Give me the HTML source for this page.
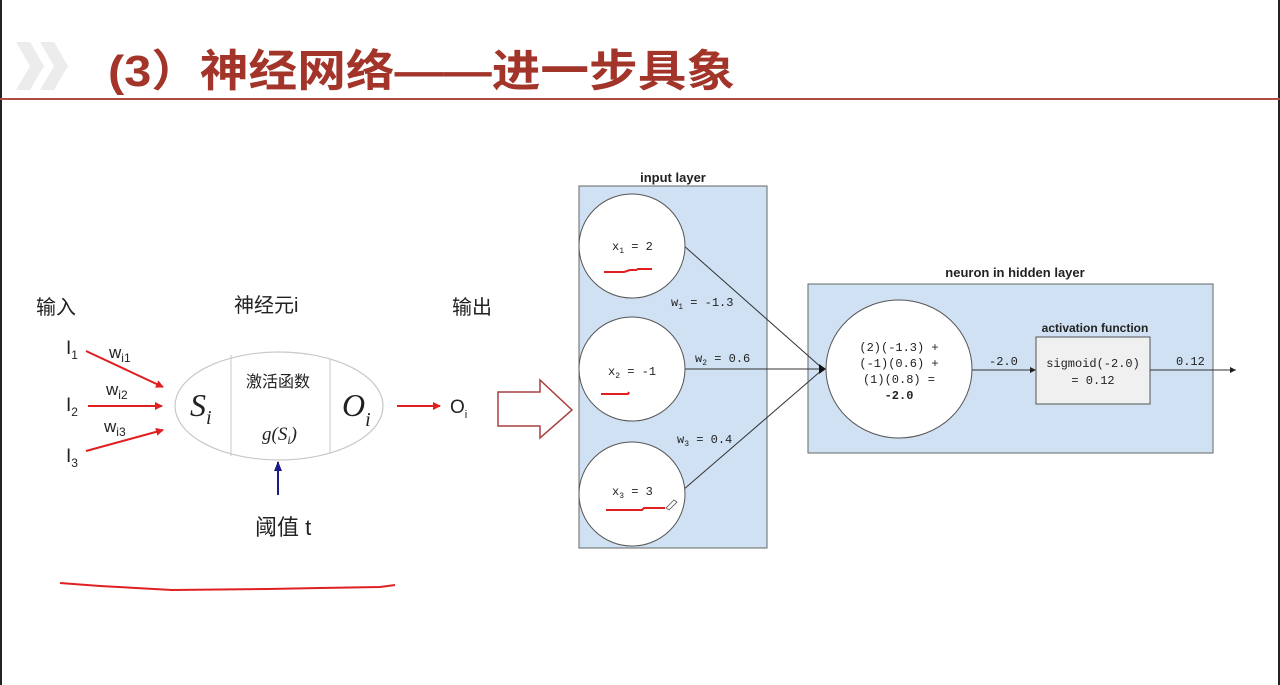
<!DOCTYPE html>
<html><head><meta charset="utf-8"><style>
html,body{margin:0;padding:0;background:#fff;}
svg{display:block;}
.m{font-family:"Liberation Mono","DejaVu Sans Mono",monospace;font-size:12px;fill:#222;}
.s{font-family:"Liberation Sans","Noto Sans CJK SC",sans-serif;}
</style></head><body>
<svg width="1280" height="685" viewBox="0 0 1280 685" xmlns="http://www.w3.org/2000/svg">
<defs>
<marker id="ra" markerWidth="8" markerHeight="8" refX="7" refY="4" orient="auto" markerUnits="userSpaceOnUse"><path d="M0,0L8,4L0,8z" fill="#e02020"/></marker>
<marker id="ba" markerWidth="10" markerHeight="10" refX="9" refY="4" orient="auto" markerUnits="userSpaceOnUse"><path d="M0,0L10,4L0,8z" fill="#1a1a8a"/></marker>
<marker id="ka" markerWidth="6" markerHeight="6" refX="6" refY="3" orient="auto" markerUnits="userSpaceOnUse"><path d="M0,0L6,3L0,6z" fill="#222"/></marker>
</defs>
<rect x="0" y="0" width="2" height="685" fill="#222"/>
<rect x="1278" y="0" width="2" height="685" fill="#222"/>
<!-- header -->
<path d="M16,42 L30,42 L44,66 L30,90 L16,90 L30,66z" fill="#ececec"/>
<path d="M40,42 L54,42 L68,66 L54,90 L40,90 L54,66z" fill="#ececec"/>
<text x="108" y="86" class="s" font-size="44" font-weight="bold" fill="#a2342a" textLength="627" lengthAdjust="spacingAndGlyphs">(3）神经网络——进一步具象</text>
<rect x="0" y="98" width="1280" height="2" fill="#b04a44"/>
<!-- left diagram -->
<text x="36" y="314" class="s" font-size="20" fill="#222">输入</text>
<text x="234" y="312" class="s" font-size="20" fill="#222">神经元i</text>
<text x="452" y="314" class="s" font-size="20" fill="#222">输出</text>
<text x="66" y="354" class="s" font-size="19" fill="#222">I<tspan font-size="12" dy="5">1</tspan></text>
<text x="66" y="411" class="s" font-size="19" fill="#222">I<tspan font-size="12" dy="5">2</tspan></text>
<text x="66" y="462" class="s" font-size="19" fill="#222">I<tspan font-size="12" dy="5">3</tspan></text>
<text x="109" y="358" class="s" font-size="17" fill="#222">w<tspan font-size="12" dy="4">i1</tspan></text>
<text x="106" y="395" class="s" font-size="17" fill="#222">w<tspan font-size="12" dy="4">i2</tspan></text>
<text x="104" y="432" class="s" font-size="17" fill="#222">w<tspan font-size="12" dy="4">i3</tspan></text>
<line x1="86" y1="351" x2="163" y2="387" stroke="#e02020" stroke-width="2" marker-end="url(#ra)"/>
<line x1="88" y1="406" x2="162" y2="406" stroke="#e02020" stroke-width="2" marker-end="url(#ra)"/>
<line x1="86" y1="451" x2="163" y2="430" stroke="#e02020" stroke-width="2" marker-end="url(#ra)"/>
<ellipse cx="279" cy="406" rx="104" ry="54" fill="#fff" stroke="#c8c8c8" stroke-width="1.2"/>
<line x1="231" y1="355" x2="231" y2="456" stroke="#c8c8c8"/>
<line x1="330" y1="359" x2="330" y2="453" stroke="#c8c8c8"/>
<text x="190" y="416" font-family="Liberation Serif,serif" font-style="italic" font-size="32" fill="#222">S<tspan font-size="20" dy="8">i</tspan></text>
<text x="342" y="416" font-family="Liberation Serif,serif" font-style="italic" font-size="32" fill="#222">O<tspan font-size="20" dy="10">i</tspan></text>
<text x="246" y="387" class="s" font-size="16" fill="#222">激活函数</text>
<text x="262" y="440" font-family="Liberation Serif,serif" font-style="italic" font-size="19" fill="#222">g(S<tspan font-size="12" dy="4">i</tspan><tspan dy="-4">)</tspan></text>
<line x1="278" y1="495" x2="278" y2="462" stroke="#1a1a8a" stroke-width="2" marker-end="url(#ba)"/>
<text x="255" y="535" class="s" font-size="22" fill="#222">阈值 t</text>
<line x1="397" y1="406" x2="440" y2="406" stroke="#e02020" stroke-width="2" marker-end="url(#ra)"/>
<text x="450" y="413" class="s" font-size="19" fill="#222">O<tspan font-size="11" dy="5">i</tspan></text>
<path d="M498,392 L540,392 L540,380 L572,410 L540,438 L540,426 L498,426z" fill="#fff" stroke="#a84040" stroke-width="1.5"/>
<path d="M60,583 L100,586 L172,590 L268,589 L320,588 L380,587 L395,585" fill="none" stroke="#e02020" stroke-width="2"/>
<!-- right diagram -->
<text x="673" y="182" class="s" font-size="13" font-weight="bold" fill="#222" text-anchor="middle">input layer</text>
<rect x="579" y="186" width="188" height="362" fill="#cfe1f2" stroke="#666" stroke-width="1"/>
<text x="1015" y="277" class="s" font-size="13" font-weight="bold" fill="#222" text-anchor="middle">neuron in hidden layer</text>
<rect x="808" y="284" width="405" height="169" fill="#cfe1f2" stroke="#666"/>
<line x1="683" y1="245" x2="822" y2="368" stroke="#333"/>
<line x1="683" y1="369" x2="822" y2="369" stroke="#333"/>
<line x1="683" y1="490" x2="822" y2="370" stroke="#333"/>
<path d="M819,364 L826,369 L819,374z" fill="#111"/>
<ellipse cx="632" cy="246" rx="53" ry="52" fill="#fff" stroke="#555"/>
<ellipse cx="632" cy="369" rx="53" ry="52" fill="#fff" stroke="#555"/>
<ellipse cx="632" cy="494" rx="53" ry="52" fill="#fff" stroke="#555"/>
<text x="612" y="250" class="m">x<tspan font-size="8" dy="3">1</tspan><tspan dy="-3"> = 2</tspan></text>
<text x="608" y="375" class="m">x<tspan font-size="8" dy="3">2</tspan><tspan dy="-3"> = -1</tspan></text>
<text x="612" y="495" class="m">x<tspan font-size="8" dy="3">3</tspan><tspan dy="-3"> = 3</tspan></text>
<path d="M604,272 L624,272 L630,270 L636,270 L638,269 L652,269" fill="none" stroke="#e02020" stroke-width="2"/>
<path d="M601,394 L628,394 L629,392" fill="none" stroke="#e02020" stroke-width="2"/>
<path d="M606,510 L642,510 L644,508 L650,508 L665,508" fill="none" stroke="#e02020" stroke-width="2"/>
<path d="M666,508 L674,500 L677,502 L669,510z" fill="#fff" stroke="#555" stroke-width="0.8"/>
<text x="671" y="306" class="m">w<tspan font-size="8" dy="3">1</tspan><tspan dy="-3"> = -1.3</tspan></text>
<text x="695" y="362" class="m">w<tspan font-size="8" dy="3">2</tspan><tspan dy="-3"> = 0.6</tspan></text>
<text x="677" y="443" class="m">w<tspan font-size="8" dy="3">3</tspan><tspan dy="-3"> = 0.4</tspan></text>
<ellipse cx="899" cy="369" rx="73" ry="69" fill="#fff" stroke="#555"/>
<text x="899" y="351" class="m" text-anchor="middle">(2)(-1.3) +</text>
<text x="899" y="367" class="m" text-anchor="middle">(-1)(0.6) +</text>
<text x="899" y="383" class="m" text-anchor="middle">(1)(0.8) =</text>
<text x="899" y="399" class="m" text-anchor="middle" font-weight="bold">-2.0</text>
<line x1="972" y1="370" x2="1036" y2="370" stroke="#333" marker-end="url(#ka)"/>
<text x="989" y="365" class="m">-2.0</text>
<text x="1095" y="332" class="s" font-size="12" font-weight="bold" fill="#222" text-anchor="middle">activation function</text>
<rect x="1036" y="337" width="114" height="67" fill="#f0f0f0" stroke="#555"/>
<text x="1093" y="367" class="m" text-anchor="middle">sigmoid(-2.0)</text>
<text x="1093" y="384" class="m" text-anchor="middle">= 0.12</text>
<line x1="1150" y1="370" x2="1236" y2="370" stroke="#333" marker-end="url(#ka)"/>
<text x="1176" y="365" class="m">0.12</text>
</svg>
</body></html>
